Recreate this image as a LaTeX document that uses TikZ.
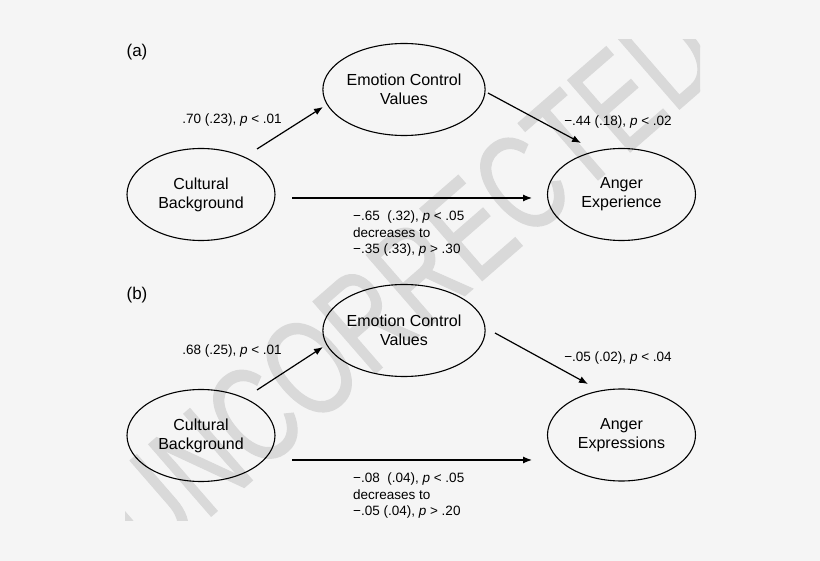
\documentclass[tikz,border=0pt]{standalone}
\usepackage{fontspec}
\setmainfont{Liberation Sans}
\newfontfamily\wmfont{Liberation Sans}[FakeBold=1]
\usetikzlibrary{shapes.geometric,arrows.meta}
\definecolor{bgcol}{HTML}{F5F5F5}
\definecolor{wmcol}{HTML}{D9D9D9}
\begin{document}
\begin{tikzpicture}[x=1pt,y=-1pt,
  var/.style={draw, ellipse, line width=1.1pt, minimum width=148pt, minimum height=92pt, inner sep=0pt, align=center, font=\fontsize{16}{19}\selectfont},
  arr/.style={-{Latex[length=9pt,width=7pt]}, line width=1.2pt},
  lab/.style={inner sep=0pt, font=\fontsize{13.5}{16.5}\selectfont},
  dlab/.style={lab, align=left, anchor=north west},
  panel/.style={inner sep=0pt, font=\fontsize{17}{20}\selectfont}]
\fill[bgcol] (0,0) rectangle (820,561);
\useasboundingbox (0,0) rectangle (820,561);
% watermark
\begin{scope}
\clip (125,40) rectangle (700,520);
\node[text=wmcol, rotate=41, inner sep=0pt, font=\wmfont\fontsize{138}{138}\selectfont] (wm) at (408,282) {\scalebox{0.71}[1]{UNCORRECTED}};
\end{scope}
% panel (a)
\node[panel] (pa) at (137,52) {(a)};
\node[var] (cba) at (201,194.5) {Cultural\\Background};
\node[var] (ecva) at (404,89.5) {Emotion Control\\Values};
\node[var] (aea) at (621.5,194.5) {Anger\\Experience};
\coordinate (a1s) at (257,149);
\coordinate (a1e) at (323,107);
\coordinate (a2s) at (488,93);
\coordinate (a2e) at (581,143);
\coordinate (a3s) at (292,198);
\coordinate (a3e) at (532,198);
\draw[arr] (a1s) -- (a1e);
\draw[arr] (a2s) -- (a2e);
\draw[arr] (a3s) -- (a3e);
\node[lab] (la1) at (232,120) {.70 (.23), \textit{p} < .01};
\node[lab] (la2) at (618,122) {−.44 (.18), \textit{p} < .02};
\node[dlab] (la3) at (353,211) {−.65\ \ (.32), \textit{p} < .05\\decreases to\\−.35 (.33), \textit{p} > .30};
% panel (b)
\node[panel] (pb) at (137,295) {(b)};
\node[var] (cbb) at (201,435.5) {Cultural\\Background};
\node[var] (ecvb) at (404,330.5) {Emotion Control\\Values};
\node[var] (aeb) at (621.5,435) {Anger\\Expressions};
\coordinate (b1s) at (257,390);
\coordinate (b1e) at (323,347);
\coordinate (b2s) at (495,333);
\coordinate (b2e) at (588,384);
\coordinate (b3s) at (292,460);
\coordinate (b3e) at (532,460);
\draw[arr] (b1s) -- (b1e);
\draw[arr] (b2s) -- (b2e);
\draw[arr] (b3s) -- (b3e);
\node[lab] (lb1) at (232,351) {.68 (.25), \textit{p} < .01};
\node[lab] (lb2) at (618,358) {−.05 (.02), \textit{p} < .04};
\node[dlab] (lb3) at (353,473) {−.08\ \ (.04), \textit{p} < .05\\decreases to\\−.05 (.04), \textit{p} > .20};
\end{tikzpicture}
\end{document}
